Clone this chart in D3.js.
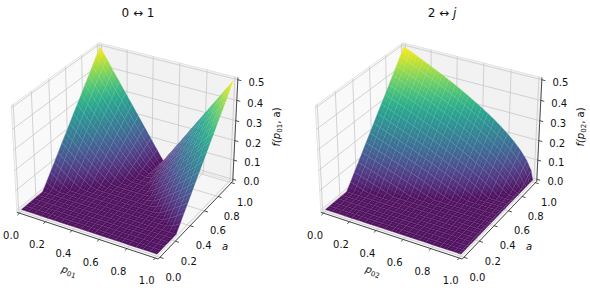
<!DOCTYPE html>
<html>
<head>
<meta charset="utf-8">
<script src="https://cdn.jsdelivr.net/npm/d3@7"></script>
<style>
body { margin: 0; background: #fff; }
text { font-family: "DejaVu Sans"; fill: #111; }
</style>
</head>
<body>
<svg id="chart" width="590" height="292"></svg>
<script>
var pValues01 = [0, .05, .1, .15, .2, .25, .3, .35, .4, .45, .5, .55, .6, .65, .7, .75, .8, .85, .9, .95, 1];
var pValues02 = [0, .05, .1, .15, .2, .25, .3, .35, .4, .45, .5, .55, .6, .65, .7, .75, .8, .85, .9, .95, .985, 1];
var aValues = [0, .05, .1, .15, .2, .25, .3, .35, .4, .45, .5, .55, .6, .65, .7, .75, .8, .85, .9, .95, 1];
var xTicks = [0, .2, .4, .6, .8, 1];
var yTicks = [0, .2, .4, .6, .8, 1];
var zTicks = [0, .1, .2, .3, .4, .5];

// one row per a value, one column per p value
var z01 = [
    [0,0,0,0,0,0,0,0,0,0,0,0,0,0,0,0,0,0,0,0,0],
    [0,0,0,0,0,0,0,0,0,0,0,0,0,0,0,0,0,0,0,0,0],
    [0,0,0,0,0,0,0,0,0,0,0,0,0,0,0,0,0,0,0,0,0],
    [0,0,0,0,0,0,0,0,0,0,0,0,0,0,0,0,0,0,0,0,0],
    [0,0,0,0,0,0,0,0,0,0,0,0,0,0,0,0,0,0,0,0,0],
    [0,0,0,0,0,0,0,0,0,0,0,0,0,0,0,0,0,0,0,0,0],
    [.033,.012,0,0,0,0,0,0,0,0,0,0,0,0,0,0,0,0,0,.012,.033],
    [.067,.043,.021,0,0,0,0,0,0,0,0,0,0,0,0,0,0,0,.021,.043,.067],
    [.1,.075,.05,.027,.006,0,0,0,0,0,0,0,0,0,0,0,.006,.027,.05,.075,.1],
    [.133,.106,.079,.054,.03,.008,0,0,0,0,0,0,0,0,0,.008,.03,.054,.079,.106,.133],
    [.167,.137,.108,.081,.055,.03,.008,0,0,0,0,0,0,0,.008,.03,.055,.081,.108,.137,.167],
    [.2,.169,.137,.108,.08,.052,.027,.004,0,0,0,0,0,.004,.027,.052,.08,.108,.137,.169,.2],
    [.233,.2,.167,.135,.104,.074,.046,.02,0,0,0,0,0,.02,.046,.074,.104,.135,.167,.2,.233],
    [.267,.231,.196,.162,.129,.096,.066,.037,.011,0,0,0,.011,.037,.066,.096,.129,.162,.196,.231,.267],
    [.3,.262,.225,.189,.153,.118,.085,.053,.024,0,0,0,.024,.053,.085,.118,.153,.189,.225,.262,.3],
    [.333,.294,.254,.216,.178,.14,.104,.069,.037,.008,0,.008,.037,.069,.104,.14,.178,.216,.254,.294,.333],
    [.367,.325,.283,.242,.202,.162,.123,.085,.049,.016,0,.016,.049,.085,.123,.162,.202,.242,.283,.325,.367],
    [.4,.356,.312,.269,.227,.184,.142,.101,.062,.025,0,.025,.062,.101,.142,.184,.227,.269,.312,.356,.4],
    [.433,.387,.342,.296,.251,.206,.162,.118,.075,.033,0,.033,.075,.118,.162,.206,.251,.296,.342,.387,.433],
    [.467,.419,.371,.323,.276,.228,.181,.134,.087,.042,0,.042,.087,.134,.181,.228,.276,.323,.371,.419,.467],
    [.5,.45,.4,.35,.3,.25,.2,.15,.1,.05,0,.05,.1,.15,.2,.25,.3,.35,.4,.45,.5]
];

var z02 = [
    [0,0,0,0,0,0,0,0,0,0,0,0,0,0,0,0,0,0,0,0,0,0],
    [0,0,0,0,0,0,0,0,0,0,0,0,0,0,0,0,0,0,0,0,0,0],
    [0,0,0,0,0,0,0,0,0,0,0,0,0,0,0,0,0,0,0,0,0,0],
    [0,0,0,0,0,0,0,0,0,0,0,0,0,0,0,0,0,0,0,0,0,0],
    [0,0,0,0,0,0,0,0,0,0,0,0,0,0,0,0,0,0,0,0,0,0],
    [0,0,0,0,0,0,0,0,0,0,0,0,0,0,0,0,0,0,0,0,0,0],
    [.033,.023,.012,.003,0,0,0,0,0,0,0,0,0,0,0,0,0,0,0,0,0,0],
    [.067,.056,.045,.035,.023,.012,0,0,0,0,0,0,0,0,0,0,0,0,0,0,0,0],
    [.1,.089,.077,.067,.055,.044,.031,.019,.007,0,0,0,0,0,0,0,0,0,0,0,0,0],
    [.133,.122,.11,.1,.087,.075,.063,.05,.037,.025,.01,0,0,0,0,0,0,0,0,0,0,0],
    [.167,.155,.143,.132,.119,.107,.094,.081,.068,.055,.04,.026,.011,0,0,0,0,0,0,0,0,0],
    [.2,.188,.176,.164,.151,.139,.125,.112,.099,.085,.07,.055,.04,.024,.007,0,0,0,0,0,0,0],
    [.233,.221,.209,.197,.183,.17,.157,.143,.129,.115,.099,.084,.068,.052,.034,.017,0,0,0,0,0,0],
    [.267,.254,.241,.229,.215,.202,.188,.174,.16,.145,.129,.113,.097,.08,.062,.043,.022,.001,0,0,0,0],
    [.3,.287,.274,.262,.247,.234,.22,.205,.19,.175,.159,.142,.125,.108,.089,.069,.048,.025,0,0,0,0],
    [.333,.32,.307,.294,.28,.266,.251,.236,.221,.206,.189,.171,.154,.136,.116,.095,.073,.049,.022,0,0,0],
    [.367,.354,.34,.326,.312,.297,.282,.267,.252,.236,.218,.2,.183,.163,.143,.122,.098,.073,.045,.011,0,0],
    [.4,.387,.373,.359,.344,.329,.314,.298,.282,.266,.248,.23,.211,.191,.17,.148,.124,.097,.067,.031,0,0],
    [.433,.42,.405,.391,.376,.361,.345,.329,.313,.296,.278,.259,.24,.219,.198,.174,.149,.122,.09,.051,.013,0],
    [.467,.453,.438,.424,.408,.392,.377,.36,.343,.326,.307,.288,.268,.247,.225,.201,.175,.146,.112,.071,.03,0],
    [.5,.486,.471,.456,.44,.424,.408,.391,.374,.356,.337,.317,.297,.275,.252,.227,.2,.17,.135,.091,.046,0]
];

var svg = d3.select("svg#chart");
var defs = svg.append("defs");
var gradId = 0;

// camera: elev 30, azim -60, distance 10
var u = [0.866, 0.5, 0],
    v = [-0.25, 0.433, 0.866],
    n = [0.433, -0.75, 0.5];

var boxX = d3.scaleLinear().domain([0, 1]).range([-0.6274, 0.6274]);
var boxY = d3.scaleLinear().domain([0, 1]).range([-0.6274, 0.6274]);
var boxZ = d3.scaleLinear().domain([0, 0.5]).range([-0.4704, 0.4704]);
var screenX = d3.scaleLinear().domain([0, 1]).range([127, 1365]);
var screenY = d3.scaleLinear().domain([0, 1]).range([145.2, -1092.8]);

var color = d3.scaleSequential(d3.interpolateViridis).domain([0, 0.5]);
var shade = z => d3.interpolateRgb(color(z), "#fff")(0.05);

function dot(a, b) {
    return a[0] * b[0] + a[1] * b[1] + a[2] * b[2];
}

function project(x, y, z) {
    var b = [boxX(x), boxY(y), boxZ(z)];
    var w = 10 - dot(n, b);
    return [screenX(dot(u, b) / w), screenY(dot(v, b) / w)];
}

function depth(x, y, z) {
    return dot(n, [boxX(x), boxY(y), boxZ(z)]);
}

function drawPanel(data, pValues, dx, title, xName, zName) {
    var g = svg.append("g").attr("transform", "translate(" + dx + ",0)");
    var lo = -1 / 48, hi = 49 / 48;
    var zlo = lo / 2, zhi = hi / 2;
    var line = d3.line();

    // panes
    var panes = [
        { c: "#f9f9f9", pts: [[lo, lo, zlo], [lo, hi, zlo], [lo, hi, zhi], [lo, lo, zhi]] },
        { c: "#f2f2f2", pts: [[lo, hi, zlo], [hi, hi, zlo], [hi, hi, zhi], [lo, hi, zhi]] },
        { c: "#f6f6f6", pts: [[lo, lo, zlo], [hi, lo, zlo], [hi, hi, zlo], [lo, hi, zlo]] }
    ];
    g.selectAll("path.pane")
        .data(panes)
        .enter()
        .append("path")
        .attr("class", "pane")
        .attr("fill", d => d.c)
        .attr("stroke", "#e4e4e4")
        .attr("stroke-width", 1)
        .attr("d", d => line(d.pts.map(q => project(q[0], q[1], q[2]))) + "Z");

    // grid lines on the three panes
    var grid = [];
    xTicks.forEach(t => grid.push([[t, lo, zlo], [t, hi, zlo], [t, hi, zhi]]));
    yTicks.forEach(t => grid.push([[hi, t, zlo], [lo, t, zlo], [lo, t, zhi]]));
    zTicks.forEach(t => grid.push([[lo, lo, t], [lo, hi, t], [hi, hi, t]]));
    g.selectAll("path.grid")
        .data(grid)
        .enter()
        .append("path")
        .attr("class", "grid")
        .attr("fill", "none")
        .attr("stroke", "#c8c8c8")
        .attr("stroke-width", 0.8)
        .attr("d", d => line(d.map(q => project(q[0], q[1], q[2]))));

    // axis lines
    var axes = [
        [[lo, lo, zlo], [hi, lo, zlo]],
        [[hi, lo, zlo], [hi, hi, zlo]],
        [[hi, hi, zlo], [hi, hi, zhi]]
    ];
    g.selectAll("path.axis")
        .data(axes)
        .enter()
        .append("path")
        .attr("class", "axis")
        .attr("fill", "none")
        .attr("stroke", "#222")
        .attr("stroke-width", 0.8)
        .attr("d", d => line(d.map(q => project(q[0], q[1], q[2]))));

    // surface cells, far ones first
    var cells = [];
    for (var j = 0; j < aValues.length - 1; j++) {
        for (var i = 0; i < pValues.length - 1; i++) {
            cells.push({
                x0: pValues[i], x1: pValues[i + 1],
                y0: aValues[j], y1: aValues[j + 1],
                zs: [data[j][i], data[j][i + 1], data[j + 1][i + 1], data[j + 1][i]]
            });
        }
    }
    cells.forEach(c => {
        c.pts = [
            project(c.x0, c.y0, c.zs[0]),
            project(c.x1, c.y0, c.zs[1]),
            project(c.x1, c.y1, c.zs[2]),
            project(c.x0, c.y1, c.zs[3])
        ];
        c.depth = depth((c.x0 + c.x1) / 2, (c.y0 + c.y1) / 2, d3.mean(c.zs));
    });
    cells.sort((a, b) => a.depth - b.depth);

    g.selectAll("path.cell")
        .data(cells)
        .enter()
        .append("path")
        .attr("class", "cell")
        .attr("d", c => line(c.pts) + "Z")
        .attr("fill", cellPaint)
        .attr("stroke", cellPaint)
        .attr("stroke-width", 0.3);

    // light seams over the cells, at the cell edges and halfway across them
    var mid = (a, b) => [(a[0] + b[0]) / 2, (a[1] + b[1]) / 2];
    var seams = "";
    cells.forEach(c => {
        seams += line([c.pts[0], c.pts[1]]);
        seams += line([c.pts[0], c.pts[3]]);
        seams += line([mid(c.pts[0], c.pts[3]), mid(c.pts[1], c.pts[2])]);
        seams += line([mid(c.pts[0], c.pts[1]), mid(c.pts[3], c.pts[2])]);
    });
    g.append("path")
        .attr("class", "seams")
        .attr("fill", "none")
        .attr("stroke", "#fff")
        .attr("stroke-opacity", 0.13)
        .attr("stroke-width", 0.6)
        .attr("d", seams);

    // ticks and tick labels
    function tickMarks(cls, ticks, from, to, off) {
        g.selectAll("path." + cls)
            .data(ticks)
            .enter()
            .append("path")
            .attr("class", cls)
            .attr("stroke", "#222")
            .attr("stroke-width", 0.8)
            .attr("d", t => line([from(t), to(t)]));
        g.selectAll("text." + cls)
            .data(ticks)
            .enter()
            .append("text")
            .attr("class", cls)
            .attr("font-size", 10)
            .attr("text-anchor", "middle")
            .attr("x", t => from(t)[0] + off[0])
            .attr("y", t => from(t)[1] + off[1] + 3.6)
            .text(t => t.toFixed(1));
    }
    tickMarks("xt", xTicks,
        t => project(t, lo, zlo), t => project(t, lo - 0.025, zlo), [-8.5, 22.5]);
    tickMarks("yt", yTicks,
        t => project(hi, t, zlo), t => project(hi + 0.025, t, zlo), [13.5, 20]);
    tickMarks("zt", zTicks,
        t => project(hi, hi, t), t => project(hi + 0.025, hi, t), [18.5, 2.5]);

    // titles and axis names
    var head = g.append("text")
        .attr("x", 138)
        .attr("y", 17)
        .attr("font-size", 12)
        .attr("text-anchor", "middle");
    head.append("tspan").text(title[0] + " \u2194 ");
    head.append("tspan").attr("font-style", title[2] ? "italic" : "normal").text(title[1]);

    subLabel(g, 68, 274, 18, "p", xName, "");
    g.append("text")
        .attr("x", 225)
        .attr("y", 250)
        .attr("font-size", 10)
        .attr("font-style", "italic")
        .attr("text-anchor", "middle")
        .text("a");
    subLabel(g, 280, 127, -90, "f(p", zName, ", a)");
}

function subLabel(g, x, y, angle, base, sub, tail) {
    var t = g.append("text")
        .attr("transform", "translate(" + x + "," + y + ") rotate(" + angle + ")")
        .attr("font-size", 10)
        .attr("font-style", "italic")
        .attr("text-anchor", "middle");
    t.append("tspan").text(base);
    t.append("tspan").attr("font-size", 7).attr("font-style", "normal").attr("dy", 2).text(sub);
    t.append("tspan").attr("dy", -2).attr("font-style", "normal").text(tail);
}

function cellPaint(c) {
    var lo = d3.min(c.zs), hi = d3.max(c.zs);
    if (hi - lo < 1e-6) return shade(lo);
    // z gradient of this cell in screen space
    var ex = [(c.pts[1][0] + c.pts[2][0] - c.pts[0][0] - c.pts[3][0]) / 2,
              (c.pts[1][1] + c.pts[2][1] - c.pts[0][1] - c.pts[3][1]) / 2];
    var ey = [(c.pts[3][0] + c.pts[2][0] - c.pts[0][0] - c.pts[1][0]) / 2,
              (c.pts[3][1] + c.pts[2][1] - c.pts[0][1] - c.pts[1][1]) / 2];
    var dzx = (c.zs[1] + c.zs[2] - c.zs[0] - c.zs[3]) / 2;
    var dzy = (c.zs[3] + c.zs[2] - c.zs[0] - c.zs[1]) / 2;
    var det = ex[0] * ey[1] - ex[1] * ey[0];
    var gx = (dzx * ey[1] - dzy * ex[1]) / det;
    var gy = (ex[0] * dzy - ey[0] * dzx) / det;
    var len2 = gx * gx + gy * gy;
    var cx = d3.mean(c.pts, q => q[0]), cy = d3.mean(c.pts, q => q[1]), zm = d3.mean(c.zs);
    var id = "cg" + gradId++;
    var grad = defs.append("linearGradient")
        .attr("id", id)
        .attr("gradientUnits", "userSpaceOnUse")
        .attr("x1", cx + gx * (lo - zm) / len2)
        .attr("y1", cy + gy * (lo - zm) / len2)
        .attr("x2", cx + gx * (hi - zm) / len2)
        .attr("y2", cy + gy * (hi - zm) / len2);
    d3.range(3).forEach(k => {
        grad.append("stop")
            .attr("offset", k / 2)
            .attr("stop-color", shade(lo + (hi - lo) * k / 2));
    });
    return "url(#" + id + ")";
}

drawPanel(z01, pValues01, 0, ["0", "1", false], "01", "01");
drawPanel(z02, pValues02, 304, ["2", "j", true], "02", "02");
</script>
</body>
</html>
